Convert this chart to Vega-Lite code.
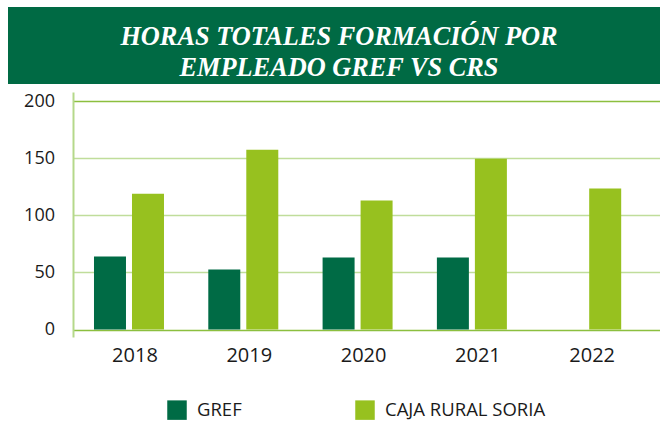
{
  "$schema": "https://vega.github.io/schema/vega-lite/v6.json",
  "padding": {"left": 8, "top": 7, "right": 0, "bottom": 0},
  "background": "white",
  "spacing": 8,
  "config": {"view": {"stroke": null}, "font": "Open Sans"},
  "vconcat": [
    {
      "width": 652,
      "height": 77,
      "view": {"fill": "#006a44", "stroke": null},
      "data": {"values": [{"t": "HORAS TOTALES FORMACIÓN POR\nEMPLEADO GREF VS CRS"}]},
      "mark": {"type": "text", "font": "Liberation Serif", "fontStyle": "italic", "fontWeight": "bold", "fontSize": 26.3, "color": "white", "lineBreak": "\n", "lineHeight": 31, "dy": -9, "dx": 5},
      "encoding": {"text": {"field": "t", "type": "nominal"}}
    },
    {
      "width": 652,
      "height": 245,
      "data": {"values": [
        {"year": "2018", "serie": "GREF", "value": 64},
        {"year": "2018", "serie": "CAJA RURAL SORIA", "value": 119},
        {"year": "2019", "serie": "GREF", "value": 52.5},
        {"year": "2019", "serie": "CAJA RURAL SORIA", "value": 157.5},
        {"year": "2020", "serie": "GREF", "value": 63},
        {"year": "2020", "serie": "CAJA RURAL SORIA", "value": 113},
        {"year": "2021", "serie": "GREF", "value": 63},
        {"year": "2021", "serie": "CAJA RURAL SORIA", "value": 149.5},
        {"year": "2022", "serie": "CAJA RURAL SORIA", "value": 123.5}
      ]},
      "mark": {"type": "bar"},
      "encoding": {
        "x": {
          "field": "year", "type": "ordinal", "title": null,
          "scale": {"range": [65, 652], "paddingInner": 0.3876, "paddingOuter": 0.2616, "align": 0.351},
          "axis": {"labelAngle": 0, "domain": false, "ticks": false, "grid": false, "labelFontSize": 20, "labelColor": "#1a1a1a", "labelPadding": 8, "labelOffset": 6}
        },
        "xOffset": {
          "field": "serie", "type": "nominal", "sort": ["GREF", "CAJA RURAL SORIA"],
          "scale": {"paddingInner": 0.158, "paddingOuter": 0}
        },
        "y": {
          "field": "value", "type": "quantitative", "title": null,
          "scale": {"domain": [-6.5, 208], "nice": false, "zero": false},
          "axis": {
            "values": [0, 50, 100, 150, 200],
            "offset": -65,
            "minExtent": 0,
            "ticks": false,
            "domain": true, "domainColor": "#b5d88a", "domainWidth": 2,
            "grid": true,
            "gridColor": {"condition": {"test": "datum.value === 0 || datum.value === 200", "value": "#8cbf3f"}, "value": "#c0dd9b"},
            "gridWidth": 1.5,
            "labelFontSize": 18, "labelColor": "#1a1a1a", "labelPadding": 18.5
          }
        },
        "color": {
          "field": "serie", "type": "nominal",
          "scale": {"domain": ["GREF", "CAJA RURAL SORIA"], "range": ["#006b45", "#97c11f"]},
          "legend": {
            "title": null, "orient": "none", "legendX": 159, "legendY": 393,
            "direction": "horizontal", "symbolType": "square", "symbolSize": 380,
            "symbolStrokeWidth": 0, "labelFontSize": 18.5, "labelColor": "#1a1a1a",
            "labelOffset": 10, "columnPadding": 113, "labelLimit": 400
          }
        }
      }
    }
  ]
}
